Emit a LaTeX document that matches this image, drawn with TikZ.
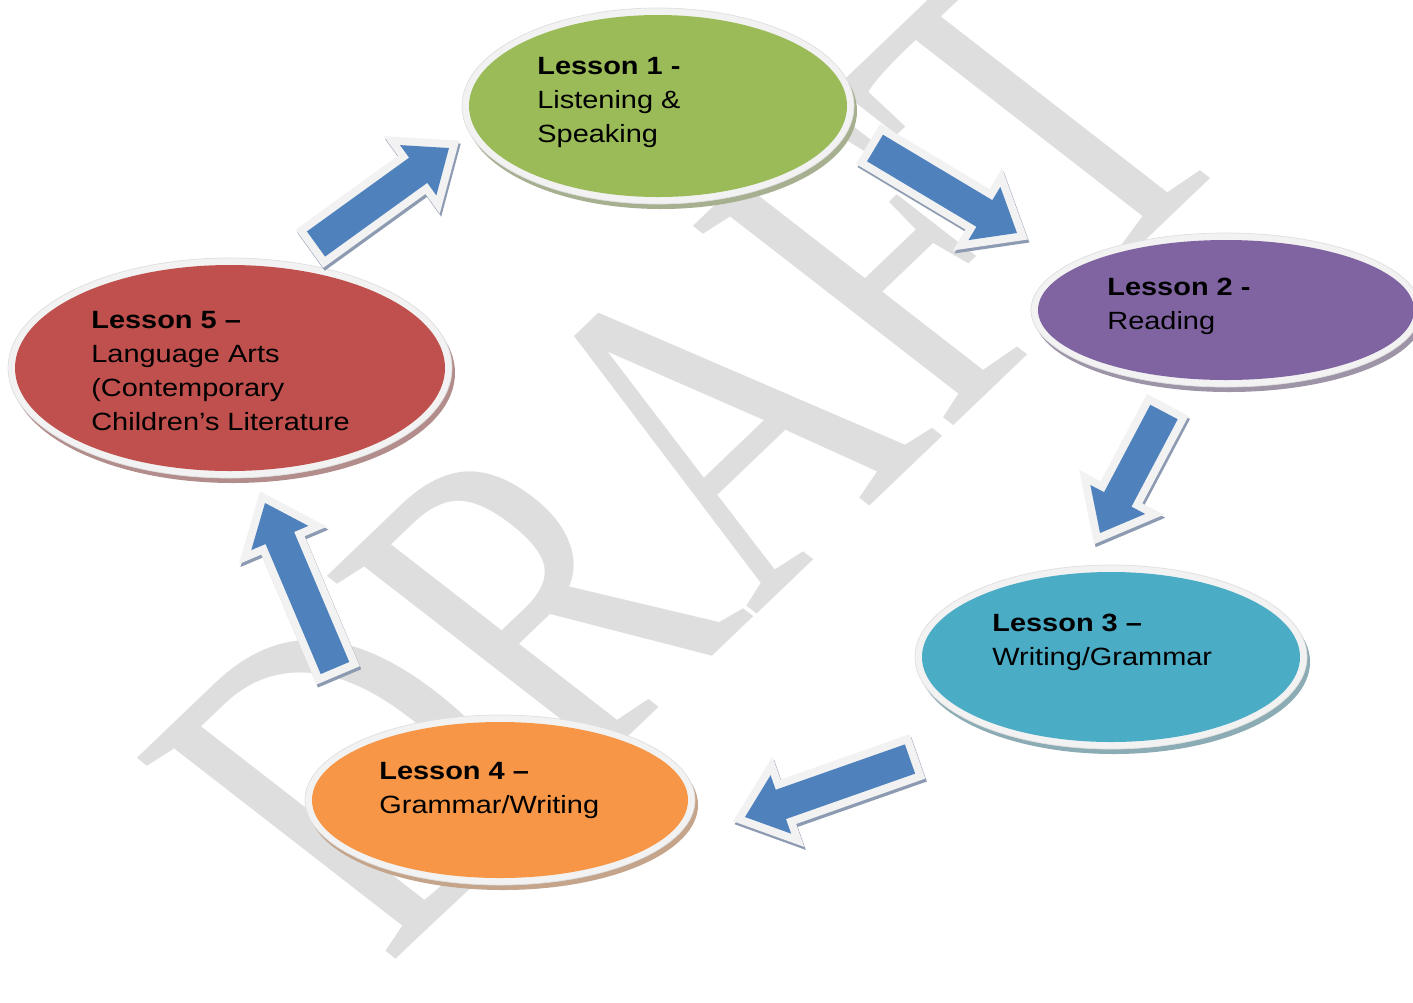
\documentclass[tikz,border=0pt]{standalone}
\usepackage{fontspec}
\setmainfont{Liberation Sans}[FakeStretch=1.16]
\newfontfamily\wmfont{Liberation Serif}
\usetikzlibrary{calc,shapes.geometric}
\definecolor{cgreen}{HTML}{9BBB59}
\definecolor{cpurple}{HTML}{8064A2}
\definecolor{cteal}{HTML}{4BACC6}
\definecolor{corange}{HTML}{F79646}
\definecolor{cred}{HTML}{C0504D}
\definecolor{cblue}{HTML}{4F81BD}
\definecolor{ringc}{HTML}{F2F2F2}
\definecolor{ashadow}{HTML}{8D9BB2}
\definecolor{wmgray}{HTML}{DEDEDE}
\tikzset{
  lbl/.style={anchor=base west, align=left, inner sep=0pt, text=black,
    font=\fontsize{14.2}{19.27}\selectfont},
  arrshadow/.style={fill=ashadow, draw=ashadow, line width=0.32cm, line join=miter},
  arrring/.style={fill=ringc, draw=ringc, line width=0.32cm, line join=miter},
  arrbody/.style={fill=cblue},
  ringstyle/.style={fill=ringc, draw=gray!25, line width=0.4pt},
}
% #1 name, #2 cx, #3 cy, #4 rx, #5 ry, #6 colour
\newcommand{\lessonell}[6]{%
  \fill[#6!60!black!55!white] (#2+3,#3+5) ellipse [x radius={(#4+7)*0.02cm}, y radius={(#5+7)*0.02cm}];
  \filldraw[ringstyle] (#2,#3) ellipse [x radius={(#4+7)*0.02cm}, y radius={(#5+7)*0.02cm}];
  \node[ellipse, fill=#6, inner sep=0pt, minimum width={2*#4*0.02cm}, minimum height={2*#5*0.02cm}] (#1) at (#2,#3) {};
}
% #1 prefix, #2 tail coordinate, #3 tip coordinate
\newcommand{\blockarr}[3]{%
  \coordinate (#1b) at ($(#3)!0.76cm!(#2)$);
  \coordinate (#1sl) at ($(#2)!0.31cm!90:(#3)$);
  \coordinate (#1sr) at ($(#2)!0.31cm!-90:(#3)$);
  \coordinate (#1bl) at ($(#1b)!0.31cm!90:(#3)$);
  \coordinate (#1br) at ($(#1b)!0.31cm!-90:(#3)$);
  \coordinate (#1hl) at ($(#1b)!0.62cm!90:(#3)$);
  \coordinate (#1hr) at ($(#1b)!0.62cm!-90:(#3)$);
  \filldraw[arrshadow, transform canvas={xshift=0.03cm, yshift=-0.06cm}] (#1sl) -- (#1bl) -- (#1hl) -- (#3) -- (#1hr) -- (#1br) -- (#1sr) -- cycle;
  \filldraw[arrring] (#1sl) -- (#1bl) -- (#1hl) -- (#3) -- (#1hr) -- (#1br) -- (#1sr) -- cycle;
  \fill[arrbody] (#1sl) -- (#1bl) -- (#1hl) -- (#3) -- (#1hr) -- (#1br) -- (#1sr) -- cycle;
}
\begin{document}
\begin{tikzpicture}[x=0.02cm, y=-0.02cm]
\useasboundingbox (0,0) rectangle (1413,1002);
\clip (0,0) rectangle (1413,1002);
\fill[white] (0,0) rectangle (1413,1002);

% watermark
\begin{scope}[shift={(690,452)}, xscale=1.16]
  \node[rotate=48, xscale=0.74, transform shape, text=wmgray, inner sep=0pt,
        font=\wmfont\fontsize{261}{261}\selectfont] (wm) at (0,0) {DRAFT};
\end{scope}

% lessons
\lessonell{e1}{658}{106}{189}{91}{cgreen}
\lessonell{e2}{1226}{310}{188}{70}{cpurple}
\lessonell{e3}{1111}{657}{189}{85}{cteal}
\lessonell{e4}{500}{800}{188}{78}{corange}
\lessonell{e5}{230}{368}{215}{103}{cred}

% anchor = baseline of the last line
\node[lbl] (t1) at (537,142) {\textbf{Lesson 1 -}\\Listening \&\\Speaking};
\node[lbl] (t2) at (1107,329) {\textbf{Lesson 2 -}\\Reading};
\node[lbl] (t3) at (992,665) {\textbf{Lesson 3 –}\\Writing/Grammar};
\node[lbl] (t4) at (379,813) {\textbf{Lesson 4 –}\\Grammar/Writing};
\node[lbl] (t5) at (91,430) {\textbf{Lesson 5 –}\\Language Arts\\(Contemporary\\Children’s Literature};

% arrows
\coordinate (a1s) at (316,244); \coordinate (a1e) at (449,148);
\coordinate (a2s) at (875,148); \coordinate (a2e) at (1017,233);
\coordinate (a3s) at (1164,412); \coordinate (a3e) at (1100,533);
\coordinate (a4s) at (910,759); \coordinate (a4e) at (745,817);
\coordinate (a5s) at (335,668); \coordinate (a5e) at (265,503);
\blockarr{p1}{a1s}{a1e}
\blockarr{p2}{a2s}{a2e}
\blockarr{p3}{a3s}{a3e}
\blockarr{p4}{a4s}{a4e}
\blockarr{p5}{a5s}{a5e}
\end{tikzpicture}
\end{document}
